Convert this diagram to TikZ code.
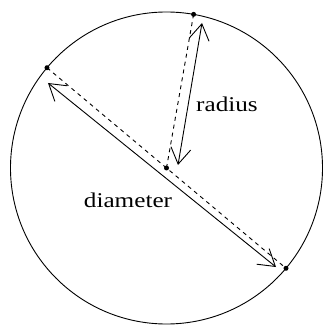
\documentclass[tikz,border=0pt]{standalone}
\usepackage{fontspec}
\setmainfont{Liberation Serif}
\usetikzlibrary{arrows.meta,calc}

\begin{document}
\begin{tikzpicture}[x=1pt, y=1pt, line width=0.9pt,
  dot/.style={circle, fill, inner sep=0pt, minimum size=5pt},
  dim/.style={{Straight Barb[length=16pt,width=20pt]}-{Straight Barb[length=16pt,width=20pt]}},
  lbl/.style={font=\fontsize{21}{24}\selectfont, xscale=1.2, inner sep=0pt}]
\useasboundingbox (-166.5,-166) rectangle (165.5,168);
% circle and its points
\draw (0,0) circle (156);
\node[dot] (O) at (0,0) {};
\node[dot] (T) at (80:156) {};
\node[dot] (L) at (140:156) {};
\node[dot] (R) at (-40:156) {};
\draw[dashed, dash pattern=on 4pt off 4pt] (L.center) -- (R.center);
\draw[dashed, dash pattern=on 4pt off 4pt] (O.center) -- (T.center);
% arrow ends
\coordinate (d1) at (-118.5,85);
\coordinate (d2) at (109.5,-99);
\coordinate (r1) at (11.5,3);
\coordinate (r2) at (35.5,145);
\draw[dim] (d1) -- (d2);
\draw[dim] (r1) -- (r2);
% labels
\node[lbl] (rad) at (60.5,64) {radius};
\node[lbl] (dia) at (-38.5,-32) {diameter};
\end{tikzpicture}
\end{document}
